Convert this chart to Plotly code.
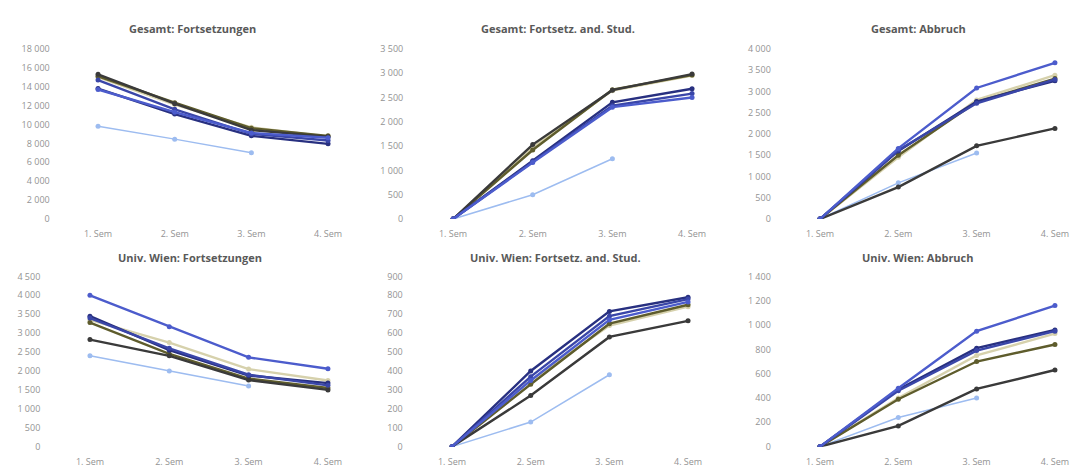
import plotly.graph_objects as go

# Semester categories
semester = ["1. Sem", "2. Sem", "3. Sem", "4. Sem"]

# Cohort series (A..G); cohort G has only three semesters observed
series_names = ["Kohorte A", "Kohorte B", "Kohorte C", "Kohorte D", "Kohorte E", "Kohorte F", "Kohorte G"]

# Gesamt: Fortsetzungen
ges_fort = {
    "Kohorte A": [15300, 12200, 9400, 8700],
    "Kohorte B": [15100, 12300, 9600, 8800],
    "Kohorte C": [15000, 12100, 9700, 8700],
    "Kohorte D": [13800, 11100, 8800, 7950],
    "Kohorte E": [14700, 11600, 9000, 8300],
    "Kohorte F": [13700, 11300, 9100, 8600],
    "Kohorte G": [9800, 8450, 7000],
}
# Gesamt: Fortsetz. and. Stud.
ges_and = {
    "Kohorte A": [0, 1530, 2650, 2980],
    "Kohorte B": [0, 1420, 2660, 2960],
    "Kohorte C": [0, 1470, 2640, 2950],
    "Kohorte D": [0, 1200, 2400, 2680],
    "Kohorte E": [0, 1180, 2330, 2580],
    "Kohorte F": [0, 1160, 2300, 2500],
    "Kohorte G": [0, 500, 1240],
}
# Gesamt: Abbruch
ges_abb = {
    "Kohorte A": [0, 750, 1720, 2130],
    "Kohorte B": [0, 1500, 2750, 3300],
    "Kohorte C": [0, 1450, 2800, 3380],
    "Kohorte D": [0, 1600, 2760, 3250],
    "Kohorte E": [0, 1620, 2720, 3280],
    "Kohorte F": [0, 1660, 3080, 3670],
    "Kohorte G": [0, 850, 1550],
}
# Univ. Wien: Fortsetzungen
uw_fort = {
    "Kohorte A": [2830, 2400, 1760, 1500],
    "Kohorte B": [3280, 2450, 1800, 1550],
    "Kohorte C": [3350, 2750, 2050, 1750],
    "Kohorte D": [3450, 2550, 1880, 1680],
    "Kohorte E": [3400, 2600, 1900, 1620],
    "Kohorte F": [4000, 3170, 2360, 2060],
    "Kohorte G": [2400, 2000, 1600],
}
# Univ. Wien: Fortsetz. and. Stud.
uw_and = {
    "Kohorte A": [0, 270, 580, 665],
    "Kohorte B": [0, 330, 650, 750],
    "Kohorte C": [0, 350, 640, 740],
    "Kohorte D": [0, 400, 715, 790],
    "Kohorte E": [0, 370, 690, 780],
    "Kohorte F": [0, 350, 670, 765],
    "Kohorte G": [0, 130, 380],
}
# Univ. Wien: Abbruch
uw_abb = {
    "Kohorte A": [0, 170, 475, 630],
    "Kohorte B": [0, 390, 700, 840],
    "Kohorte C": [0, 400, 750, 930],
    "Kohorte D": [0, 470, 810, 960],
    "Kohorte E": [0, 460, 790, 950],
    "Kohorte F": [0, 480, 950, 1160],
    "Kohorte G": [0, 240, 400],
}

panel_titles = [
    "Gesamt: Fortsetzungen", "Gesamt: Fortsetz. and. Stud.", "Gesamt: Abbruch",
    "Univ. Wien: Fortsetzungen", "Univ. Wien: Fortsetz. and. Stud.", "Univ. Wien: Abbruch",
]
panel_data = [ges_fort, ges_and, ges_abb, uw_fort, uw_and, uw_abb]
y_max = [18000, 3500, 4000, 4500, 900, 1400]
y_step = [2000, 500, 500, 500, 100, 200]

colors = {
    "Kohorte A": "#3a3a3a",
    "Kohorte B": "#5e5c2c",
    "Kohorte C": "#d6d1ac",
    "Kohorte D": "#283080",
    "Kohorte E": "#3a46a8",
    "Kohorte F": "#4c5ccc",
    "Kohorte G": "#9dbcf0",
}
widths = {k: 2.4 for k in colors}
widths["Kohorte G"] = 1.5
draw_order = ["Kohorte G", "Kohorte C", "Kohorte B", "Kohorte A", "Kohorte D", "Kohorte E", "Kohorte F"]

W, H = 1073, 475
# panel placement in pixels: (left, right, top, bottom)
boxes = [
    (59.7, 343.4, 43, 218), (413.2, 708.0, 43, 218), (780.8, 1070.6, 43, 218),
    (50.3, 343.8, 277, 452), (412.7, 703.8, 277, 452), (780.8, 1070.6, 277, 452),
]
title_pos = [(192, 22), (558, 22), (918, 22), (190, 258), (555, 258), (918, 258)]

fig = go.Figure()
tick_font = dict(family="Open Sans, sans-serif", size=9, color="#939393")

for i, (data, box) in enumerate(zip(panel_data, boxes)):
    n = i + 1
    xa = "x" if n == 1 else f"x{n}"
    ya = "y" if n == 1 else f"y{n}"
    for name in draw_order:
        vals = data[name]
        fig.add_trace(go.Scatter(
            x=list(range(len(vals))), y=vals, mode="lines+markers",
            name=name, showlegend=False,
            line=dict(color=colors[name], width=widths[name]),
            marker=dict(size=5, color=colors[name]),
            xaxis=xa, yaxis=ya,
        ))
    l, r, t, b = box
    xkey = "xaxis" if n == 1 else f"xaxis{n}"
    ykey = "yaxis" if n == 1 else f"yaxis{n}"
    fig.layout[xkey] = dict(
        domain=[l / W, r / W], anchor=ya, range=[-0.5, 3.2],
        tickmode="array", tickvals=list(range(4)), ticktext=semester,
        showgrid=False, zeroline=False, showline=False, ticks="",
        tickfont=tick_font, ticklabelstandoff=8, fixedrange=True,
    )
    fig.layout[ykey] = dict(
        domain=[1 - b / H, 1 - t / H], anchor=xa, range=[0, y_max[i]],
        tick0=0, dtick=y_step[i], tickformat=",d",
        showgrid=False, zeroline=False, showline=False, ticks="",
        tickfont=tick_font, ticklabelstandoff=9, fixedrange=True,
    )
    tx, ty = title_pos[i]
    fig.add_annotation(
        text=f"<b>{panel_titles[i]}</b>", x=tx / W, y=1 - ty / H,
        xref="paper", yref="paper", showarrow=False,
        xanchor="center", yanchor="middle",
        font=dict(family="Open Sans, sans-serif", size=11, color="#595959"),
    )

fig.update_layout(
    width=W, height=H, margin=dict(l=0, r=0, t=0, b=0),
    paper_bgcolor="white", plot_bgcolor="white",
    separators=", ",
)

fig.write_html("out.html")
